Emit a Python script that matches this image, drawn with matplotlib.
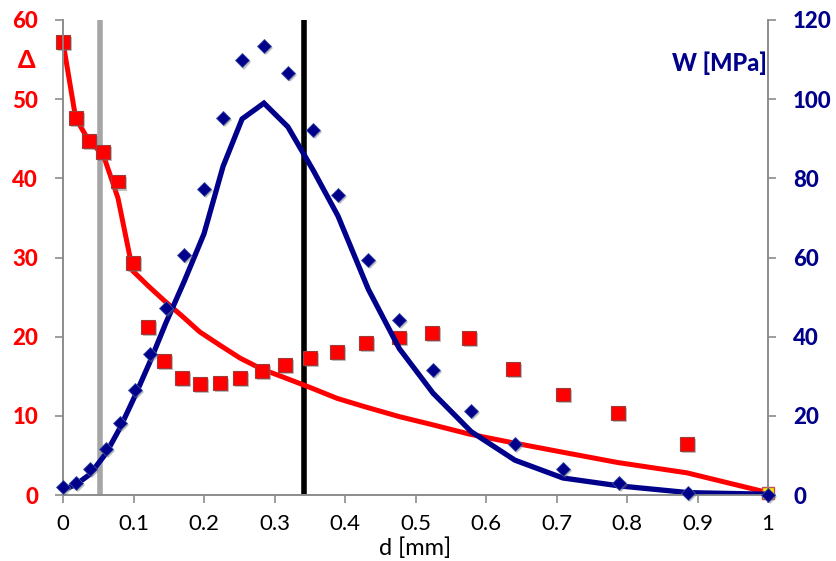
import matplotlib
matplotlib.use("Agg")
import matplotlib.pyplot as plt
import matplotlib.patheffects as pe

plt.rcParams['font.family'] = ['Lato', 'DejaVu Sans']

# measured Delta (red squares)
d_delta = [0.0, 0.018, 0.037, 0.057, 0.078, 0.099, 0.121, 0.143, 0.169, 0.194, 0.223,
           0.251, 0.282, 0.315, 0.350, 0.389, 0.430, 0.477, 0.523, 0.576, 0.638, 0.709,
           0.787, 0.885]
delta_meas = [57.2, 47.6, 44.7, 43.3, 39.6, 29.3, 21.2, 16.9, 14.8, 14.0, 14.1,
              14.8, 15.7, 16.4, 17.3, 18.1, 19.2, 19.9, 20.5, 19.8, 15.9, 12.7,
              10.4, 6.4]
d_last = [1.0]
delta_last = [0.3]

# model Delta (red line)
d_delta_fit = [0.0, 0.018, 0.037, 0.057, 0.078, 0.099, 0.121, 0.143, 0.169, 0.194, 0.223,
               0.251, 0.282, 0.315, 0.350, 0.389, 0.430, 0.477, 0.523, 0.576, 0.638, 0.709,
               0.787, 0.885, 1.0]
delta_fit = [57.2, 47.6, 44.7, 43.0, 37.5, 28.3, 26.4, 24.6, 22.6, 20.6, 18.9,
             17.3, 15.9, 14.8, 13.6, 12.2, 11.1, 9.9, 8.9, 7.7, 6.6, 5.4,
             4.1, 2.8, 0.3]

# measured W (blue diamonds)
d_w = [0.0, 0.018, 0.038, 0.061, 0.081, 0.102, 0.123, 0.146, 0.172, 0.2, 0.227,
       0.254, 0.285, 0.319, 0.355, 0.39, 0.433, 0.477, 0.525, 0.579, 0.641, 0.709,
       0.789, 0.887, 1.0]
w_meas = [2.0, 3.0, 6.6, 11.6, 18.2, 26.5, 35.6, 47.2, 60.6, 77.3, 95.2,
          109.8, 113.4, 106.6, 92.2, 75.8, 59.3, 44.2, 31.6, 21.2, 12.9, 6.6,
          3.0, 0.5, 0.0]

# model W (blue line)
w_fit = [1.3, 2.6, 5.2, 10.5, 17.0, 25.0, 33.5, 43.5, 54.0, 66.0, 83.0,
         95.0, 99.0, 93.0, 82.0, 70.5, 52.0, 37.0, 25.7, 16.0, 8.8, 4.3,
         2.3, 0.6, 0.2]

gray_line_d = 0.052
black_line_d = 0.342

x_ticks = [0, 0.1, 0.2, 0.3, 0.4, 0.5, 0.6, 0.7, 0.8, 0.9, 1]
x_ticklabels = ["0", "0.1", "0.2", "0.3", "0.4", "0.5", "0.6", "0.7", "0.8", "0.9", "1"]

RED = "#FF0000"
NAVY = "#00008B"
SPINE = "#8C8C8C"

fig = plt.figure(figsize=(8.36, 5.61), dpi=100)
ax = fig.add_axes([63 / 836, 1 - 495 / 561, 705 / 836, 475 / 561])
ax2 = ax.twinx()

shadow = [pe.SimplePatchShadow(offset=(1.5, -1.5), shadow_rgbFace="#777777", alpha=0.45), pe.Normal()]

ax.axvline(gray_line_d, color="#A6A6A6", lw=4, zorder=1)
ax.axvline(black_line_d, color="black", lw=4, zorder=1)

ax.plot(d_delta_fit, delta_fit, color=RED, lw=3.6, zorder=2, solid_joinstyle="miter")
ax.plot(d_delta, delta_meas, ls="none", marker="s", ms=10, mfc=RED, mec="#9E3B3B",
        mew=0.8, zorder=3, path_effects=shadow, clip_on=False)
ax.plot(d_last, delta_last, ls="none", marker="s", ms=9, mfc="#FFE800", mec="#C0504D",
        mew=1.0, zorder=3, clip_on=False)

ax2.plot(d_w, w_fit, color=NAVY, lw=3.8, zorder=2, solid_joinstyle="miter")
ax2.plot(d_w, w_meas, ls="none", marker="D", ms=7.2, mfc=NAVY, mec="#3A4FA0",
         mew=0.6, zorder=3, path_effects=shadow, clip_on=False)

ax.set_xlim(0, 1)
ax.set_ylim(0, 60)
ax2.set_ylim(0, 120)
ax.set_xticks(x_ticks)
ax.set_xticklabels(x_ticklabels)
ax.set_yticks(range(0, 61, 10))
ax2.set_yticks(range(0, 121, 20))

for a in (ax, ax2):
    a.spines["top"].set_visible(False)
    for s in ("left", "right", "bottom"):
        a.spines[s].set_color(SPINE)
        a.spines[s].set_linewidth(1.2)
    a.set_facecolor("none")

ax.tick_params(axis="x", direction="out", length=6, width=1.2, color=SPINE,
               labelsize=16, labelcolor="black", pad=8)
ax.tick_params(axis="y", direction="out", length=6, width=1.2, color=SPINE,
               labelsize=16, labelcolor=RED, pad=12)
ax2.tick_params(axis="y", direction="out", length=6, width=1.2, color=SPINE,
                labelsize=16, labelcolor=NAVY, pad=12)
for lab in ax.get_yticklabels():
    lab.set_fontweight("black")
for lab in ax2.get_yticklabels():
    lab.set_fontweight("black")

fig.text(27 / 836, 1 - 60 / 561, "Δ", color=RED, fontsize=18, fontweight="black",
         ha="center", va="center")
fig.text(767 / 836, 1 - 63 / 561, "W [MPa]", color=NAVY, fontsize=17, fontweight="black",
         ha="right", va="center")
fig.text(415 / 836, 1 - 548 / 561, "d [mm]", color="black", fontsize=17,
         ha="center", va="center")

fig.savefig("out.png", dpi=100)
